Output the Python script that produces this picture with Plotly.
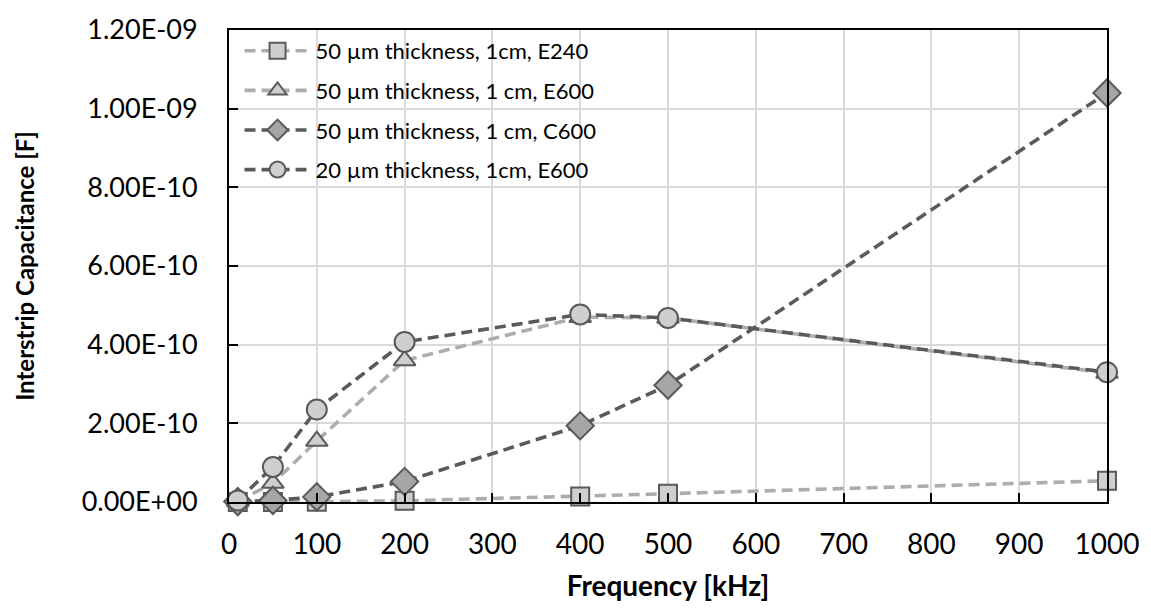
import plotly.graph_objects as go

# Frequency sweep points [kHz]
freq_khz = [10, 50, 100, 200, 400, 500, 1000]

# Interstrip capacitance [F] per sample
cap_50um_1cm_e240 = [1e-13, 2e-13, 5e-13, 3e-12, 1.4e-11, 2.1e-11, 5.4e-11]
cap_50um_1cm_e600 = [1e-12, 4.8e-11, 1.55e-10, 3.6e-10, 4.7e-10, 4.68e-10, 3.28e-10]
cap_50um_1cm_c600 = [1e-12, 4e-12, 1.3e-11, 5.2e-11, 1.94e-10, 2.97e-10, 1.04e-09]
cap_20um_1cm_e600 = [4e-12, 8.9e-11, 2.35e-10, 4.07e-10, 4.77e-10, 4.68e-10, 3.3e-10]

series_names = [
    "50 µm thickness, 1cm, E240",
    "50 µm thickness, 1 cm, E600",
    "50 µm thickness, 1 cm, C600",
    "20 µm thickness, 1cm, E600",
]

y_tickvals = [0, 2e-10, 4e-10, 6e-10, 8e-10, 1e-9, 1.2e-9]
y_ticktext = ["0.00E+00", "2.00E-10", "4.00E-10", "6.00E-10", "8.00E-10", "1.00E-09", "1.20E-09"]
x_tickvals = [0, 100, 200, 300, 400, 500, 600, 700, 800, 900, 1000]

FONT = "Lato, Carlito, Calibri, sans-serif"
LIGHT_LINE = "#b0acac"
DARK_LINE = "#5a5a5a"
MARKER_FILL = "#d0cece"
DIAMOND_FILL = "#a6a6a6"
EDGE = "#5a5a5a"
DASH = "11px,6px"

styles = [
    dict(color=LIGHT_LINE, symbol="square", size=18, fill=MARKER_FILL),
    dict(color=LIGHT_LINE, symbol="triangle-up", size=19, fill=MARKER_FILL),
    dict(color=DARK_LINE, symbol="diamond", size=21, fill=DIAMOND_FILL),
    dict(color=DARK_LINE, symbol="circle", size=20, fill=MARKER_FILL),
]
data = [cap_50um_1cm_e240, cap_50um_1cm_e600, cap_50um_1cm_c600, cap_20um_1cm_e600]

fig = go.Figure()
for i, (name, ys, st) in enumerate(zip(series_names, data, styles)):
    fig.add_trace(go.Scatter(
        x=freq_khz, y=ys, name=name, mode="lines+markers",
        legendgroup=f"g{i}",
        line=dict(color=st["color"], width=3.6, dash=DASH),
        marker=dict(symbol=st["symbol"], size=st["size"], color=st["fill"],
                    line=dict(color=EDGE, width=2)),
        cliponaxis=False,
    ))

fig.update_layout(
    width=1151, height=609,
    margin=dict(l=229, r=37, t=23, b=106),
    paper_bgcolor="white", plot_bgcolor="white",
    font=dict(family=FONT, size=24, color="black"),
    showlegend=True,
    legend=dict(
        x=0.012, y=1.0, xanchor="left", yanchor="top",
        bgcolor="rgba(0,0,0,0)", borderwidth=0,
        font=dict(family=FONT, size=22, color="black"),
        tracegroupgap=8, itemwidth=66,
    ),
    xaxis=dict(
        range=[0, 1000], tickvals=x_tickvals,
        showline=True, linecolor="black", linewidth=2, mirror=True,
        ticks="inside", ticklen=9, tickwidth=2, tickcolor="black",
        showgrid=True, gridcolor="#d9d9d9", gridwidth=2,
        zeroline=False,
        tickfont=dict(family=FONT, size=28),
        ticklabelstandoff=16,
        title=dict(text="<b>Frequency [kHz]</b>", font=dict(family=FONT, size=28), standoff=18),
    ),
    yaxis=dict(
        range=[0, 1.2e-9], tickvals=y_tickvals, ticktext=y_ticktext,
        showline=True, linecolor="black", linewidth=2, mirror=True,
        ticks="inside", ticklen=9, tickwidth=2, tickcolor="black",
        showgrid=True, gridcolor="#d9d9d9", gridwidth=2,
        zeroline=False,
        tickfont=dict(family=FONT, size=27),
        ticklabelstandoff=24,
        title=dict(text="<b>Interstrip Capacitance [F]</b>", font=dict(family=FONT, size=24), standoff=40),
    ),
)

fig.write_html("out.html")
